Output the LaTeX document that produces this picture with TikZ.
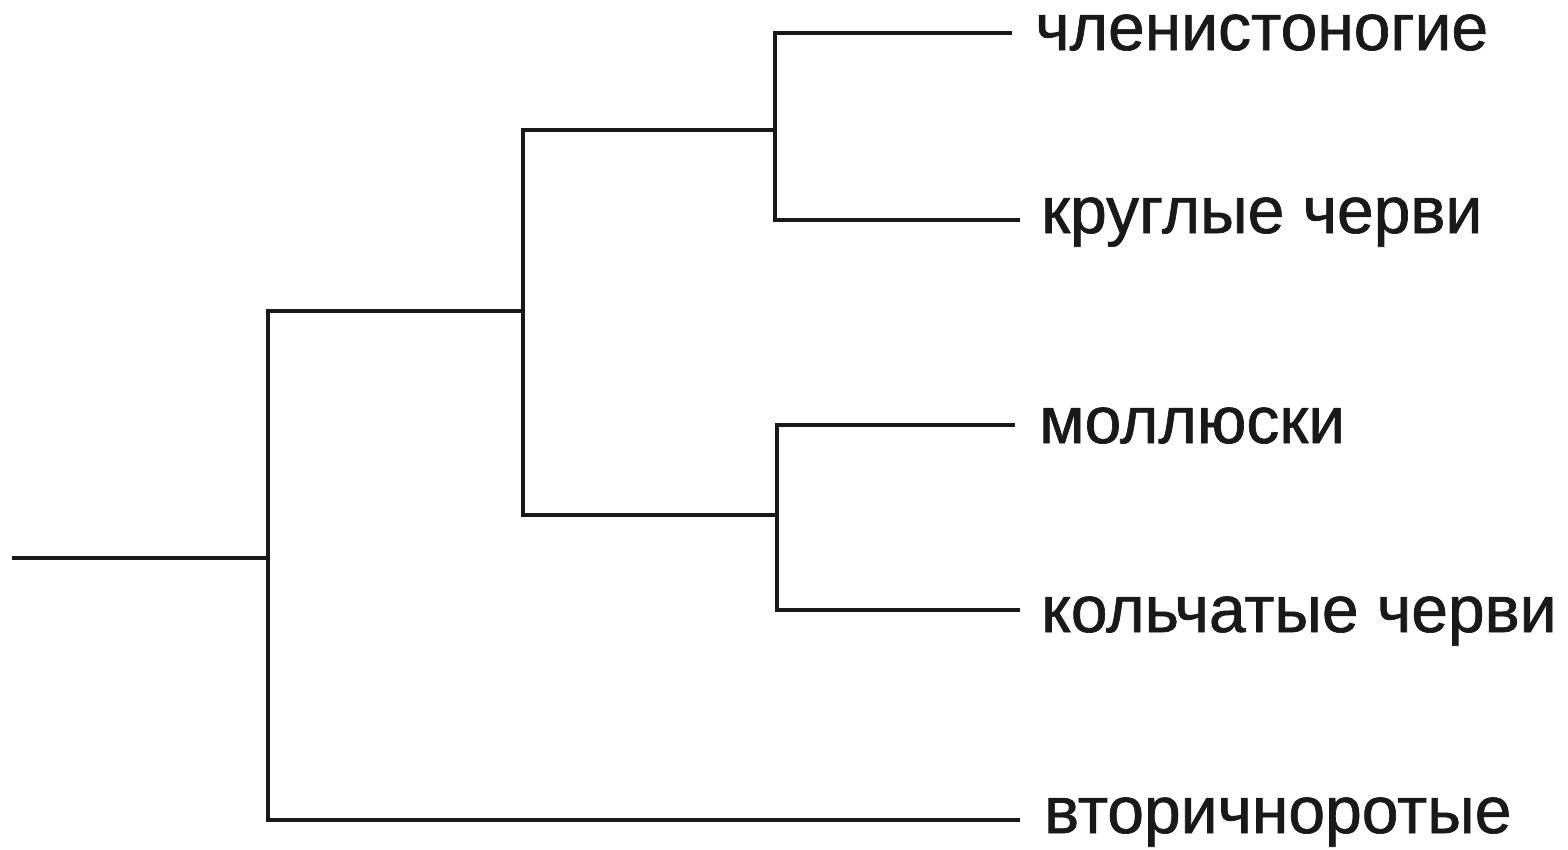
\documentclass[tikz,border=0pt]{standalone}
\usepackage{fontspec}
\setmainfont{Liberation Sans}
\newfontfamily\labelfont[FakeBold=1.0]{Liberation Sans}
\begin{document}
\begin{tikzpicture}[x=1pt,y=-1pt,
  branch/.style={draw=black!90,line width=4.5pt,line cap=butt,line join=miter},
  taxon/.style={anchor=base west,inner sep=0pt,font=\labelfont\fontsize{66}{70}\selectfont,text=black!90}]
\useasboundingbox (0,0) rectangle (1568,849);
% labels
\node[taxon] (t1) at (1035,50) {членистоногие};
\node[taxon] (t2) at (1041,233) {круглые черви};
\node[taxon] (t3) at (1039,443) {моллюски};
\node[taxon] (t4) at (1041,632) {кольчатые черви};
\node[taxon] (t5) at (1044,833) {вторичноротые};
% line ends
\coordinate (e1) at (1012,33);
\coordinate (e2) at (1020,220);
\coordinate (e3) at (1015,425);
\coordinate (e4) at (1020,610);
\coordinate (e5) at (1020,820);
% internal nodes
\coordinate (root) at (12,558);
\coordinate (n0) at (268,558);
\coordinate (n1) at (523,311);
\coordinate (n2) at (775,130);
\coordinate (n3) at (777,515);
% tree
\draw[branch] (root) -- (n0);
\draw[branch] (e5) -| (n0) |- (n1);
\draw[branch] (n0 |- n1) -- (n1);
\draw[branch] (n2) -| (n1 |- n2) -- (n1 |- n3) -- (n3);
\draw[branch] (e1) -| (n2 |- e1) -- (n2 |- e2) -- (e2);
\draw[branch] (e3) -| (n3 |- e3) -- (n3 |- e4) -- (e4);
\end{tikzpicture}
\end{document}
